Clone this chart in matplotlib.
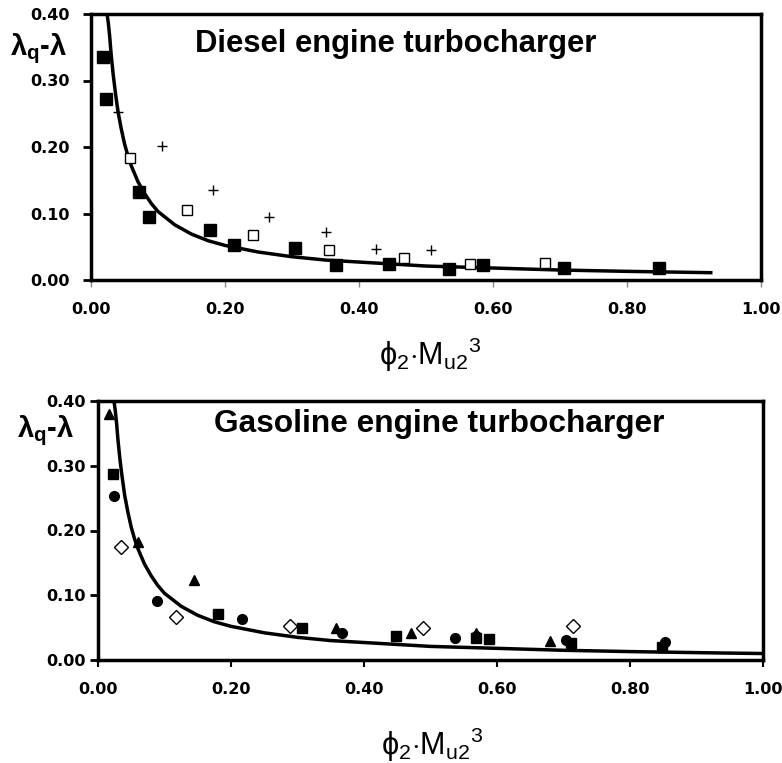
import numpy as np
import matplotlib.pyplot as plt

plt.rcParams['font.family'] = ['DejaVu Sans']
plt.rcParams['mathtext.fontset'] = 'custom'
plt.rcParams['mathtext.rm'] = 'Liberation Sans'
plt.rcParams['mathtext.bf'] = 'Liberation Sans:bold'
plt.rcParams['mathtext.it'] = 'Liberation Sans:italic'

# fitted curve
curve_x = [0.024, 0.026, 0.028, 0.030, 0.033, 0.036, 0.040, 0.045, 0.050, 0.055, 0.060, 0.070,
           0.080, 0.090, 0.100, 0.125, 0.150, 0.175, 0.200, 0.250, 0.300, 0.350, 0.400, 0.500,
           0.600, 0.700, 0.800, 0.925, 1.000]
curve_y = [0.400, 0.385, 0.365, 0.340, 0.310, 0.285, 0.255, 0.228, 0.205, 0.187, 0.172, 0.148,
           0.130, 0.115, 0.103, 0.083, 0.069, 0.059, 0.052, 0.042, 0.035, 0.030, 0.027, 0.021,
           0.018, 0.015, 0.013, 0.011, 0.010]

# diesel
d_sq_x = [0.018, 0.022, 0.071, 0.087, 0.178, 0.214, 0.304, 0.366, 0.445, 0.534, 0.585, 0.706, 0.848]
d_sq_y = [0.335, 0.272, 0.132, 0.095, 0.075, 0.052, 0.048, 0.022, 0.024, 0.016, 0.022, 0.018, 0.018]
d_open_x = [0.058, 0.143, 0.242, 0.355, 0.467, 0.566, 0.678]
d_open_y = [0.183, 0.106, 0.068, 0.045, 0.033, 0.024, 0.026]
d_plus_x = [0.040, 0.106, 0.182, 0.266, 0.351, 0.425, 0.507]
d_plus_y = [0.253, 0.201, 0.135, 0.095, 0.072, 0.046, 0.045]

# gasoline
g_tri_x = [0.017, 0.060, 0.144, 0.358, 0.470, 0.568, 0.680]
g_tri_y = [0.380, 0.182, 0.123, 0.049, 0.042, 0.042, 0.030]
g_sq_x = [0.022, 0.181, 0.307, 0.448, 0.568, 0.588, 0.711, 0.848]
g_sq_y = [0.288, 0.071, 0.049, 0.037, 0.034, 0.033, 0.026, 0.020]
g_circ_x = [0.024, 0.088, 0.217, 0.367, 0.537, 0.568, 0.704, 0.853]
g_circ_y = [0.253, 0.091, 0.063, 0.042, 0.034, 0.037, 0.031, 0.028]
g_dia_x = [0.034, 0.118, 0.289, 0.489, 0.715]
g_dia_y = [0.175, 0.066, 0.053, 0.049, 0.052]

xticks = [0.0, 0.2, 0.4, 0.6, 0.8, 1.0]
yticks = [0.0, 0.1, 0.2, 0.3, 0.4]

fig = plt.figure(figsize=(7.82, 7.63), dpi=100)
ax1 = fig.add_axes([91/782, 1-280/763, 670/782, 266/763])
ax2 = fig.add_axes([98/782, 1-660/763, 665/782, 259/763])

def style(ax, ypad):
    ax.set_xlim(0, 1)
    ax.set_ylim(0, 0.4)
    ax.set_xticks(xticks)
    ax.set_yticks(yticks)
    ax.set_xticklabels(['%.2f' % v for v in xticks], fontweight='bold', fontsize=11.5)
    ax.set_yticklabels(['%.2f' % v for v in yticks], fontweight='bold', fontsize=11.5)
    for s in ax.spines.values():
        s.set_linewidth(2.5)
        s.set_color('black')
    ax.tick_params(axis='y', direction='out', length=6, width=2, pad=ypad)
    ax.tick_params(axis='x', direction='out', length=5, width=1.5, pad=11)

# top chart
n = len([x for x in curve_x if x <= 0.925])
ax1.plot(curve_x[:n], curve_y[:n], color='black', lw=2.5)
ax1.plot(d_sq_x, d_sq_y, 's', color='black', ms=8, ls='none')
ax1.plot(d_open_x, d_open_y, 's', mfc='white', mec='black', mew=1, ms=7, ls='none')
ax1.plot(d_plus_x, d_plus_y, '+', color='black', ms=7, mew=1, ls='none')
style(ax1, 9)
ax1.tick_params(axis='x', color='#888888', width=1)
ax1.text(0.155, 0.355, 'Diesel engine turbocharger', fontfamily='Liberation Sans',
         fontweight='bold', fontsize=22.3, va='center', ha='left')

# bottom chart
ax2.plot(curve_x, curve_y, color='black', lw=2.5)
ax2.plot(g_tri_x, g_tri_y, '^', color='black', ms=7, ls='none')
ax2.plot(g_sq_x, g_sq_y, 's', color='black', ms=7, ls='none')
ax2.plot(g_circ_x, g_circ_y, 'o', color='black', ms=7, ls='none')
ax2.plot(g_dia_x, g_dia_y, 'D', mfc='white', mec='black', mew=1, ms=7, ls='none')
style(ax2, 3)
ax2.text(0.175, 0.364, 'Gasoline engine turbocharger', fontfamily='Liberation Sans',
         fontweight='bold', fontsize=22.8, va='center', ha='left')

ylab = r'$\mathbf{\lambda_q}$' + '-' + r'$\mathbf{\lambda}$'
fig.text(39/782, 1-49/763, ylab, fontsize=21, fontweight='bold', ha='center', va='center',
         fontfamily='Liberation Sans')
fig.text(46/782, 1-431/763, ylab, fontsize=21, fontweight='bold', ha='center', va='center',
         fontfamily='Liberation Sans')

xlab = r'$\mathrm{\phi_2{\cdot}M_{u2}}^{3}$'
fig.text(430/782, 1-355/763, xlab, fontsize=22, ha='center', va='center')
fig.text(432/782, 1-745/763, xlab, fontsize=22, ha='center', va='center')

fig.savefig('out.png', dpi=100)
